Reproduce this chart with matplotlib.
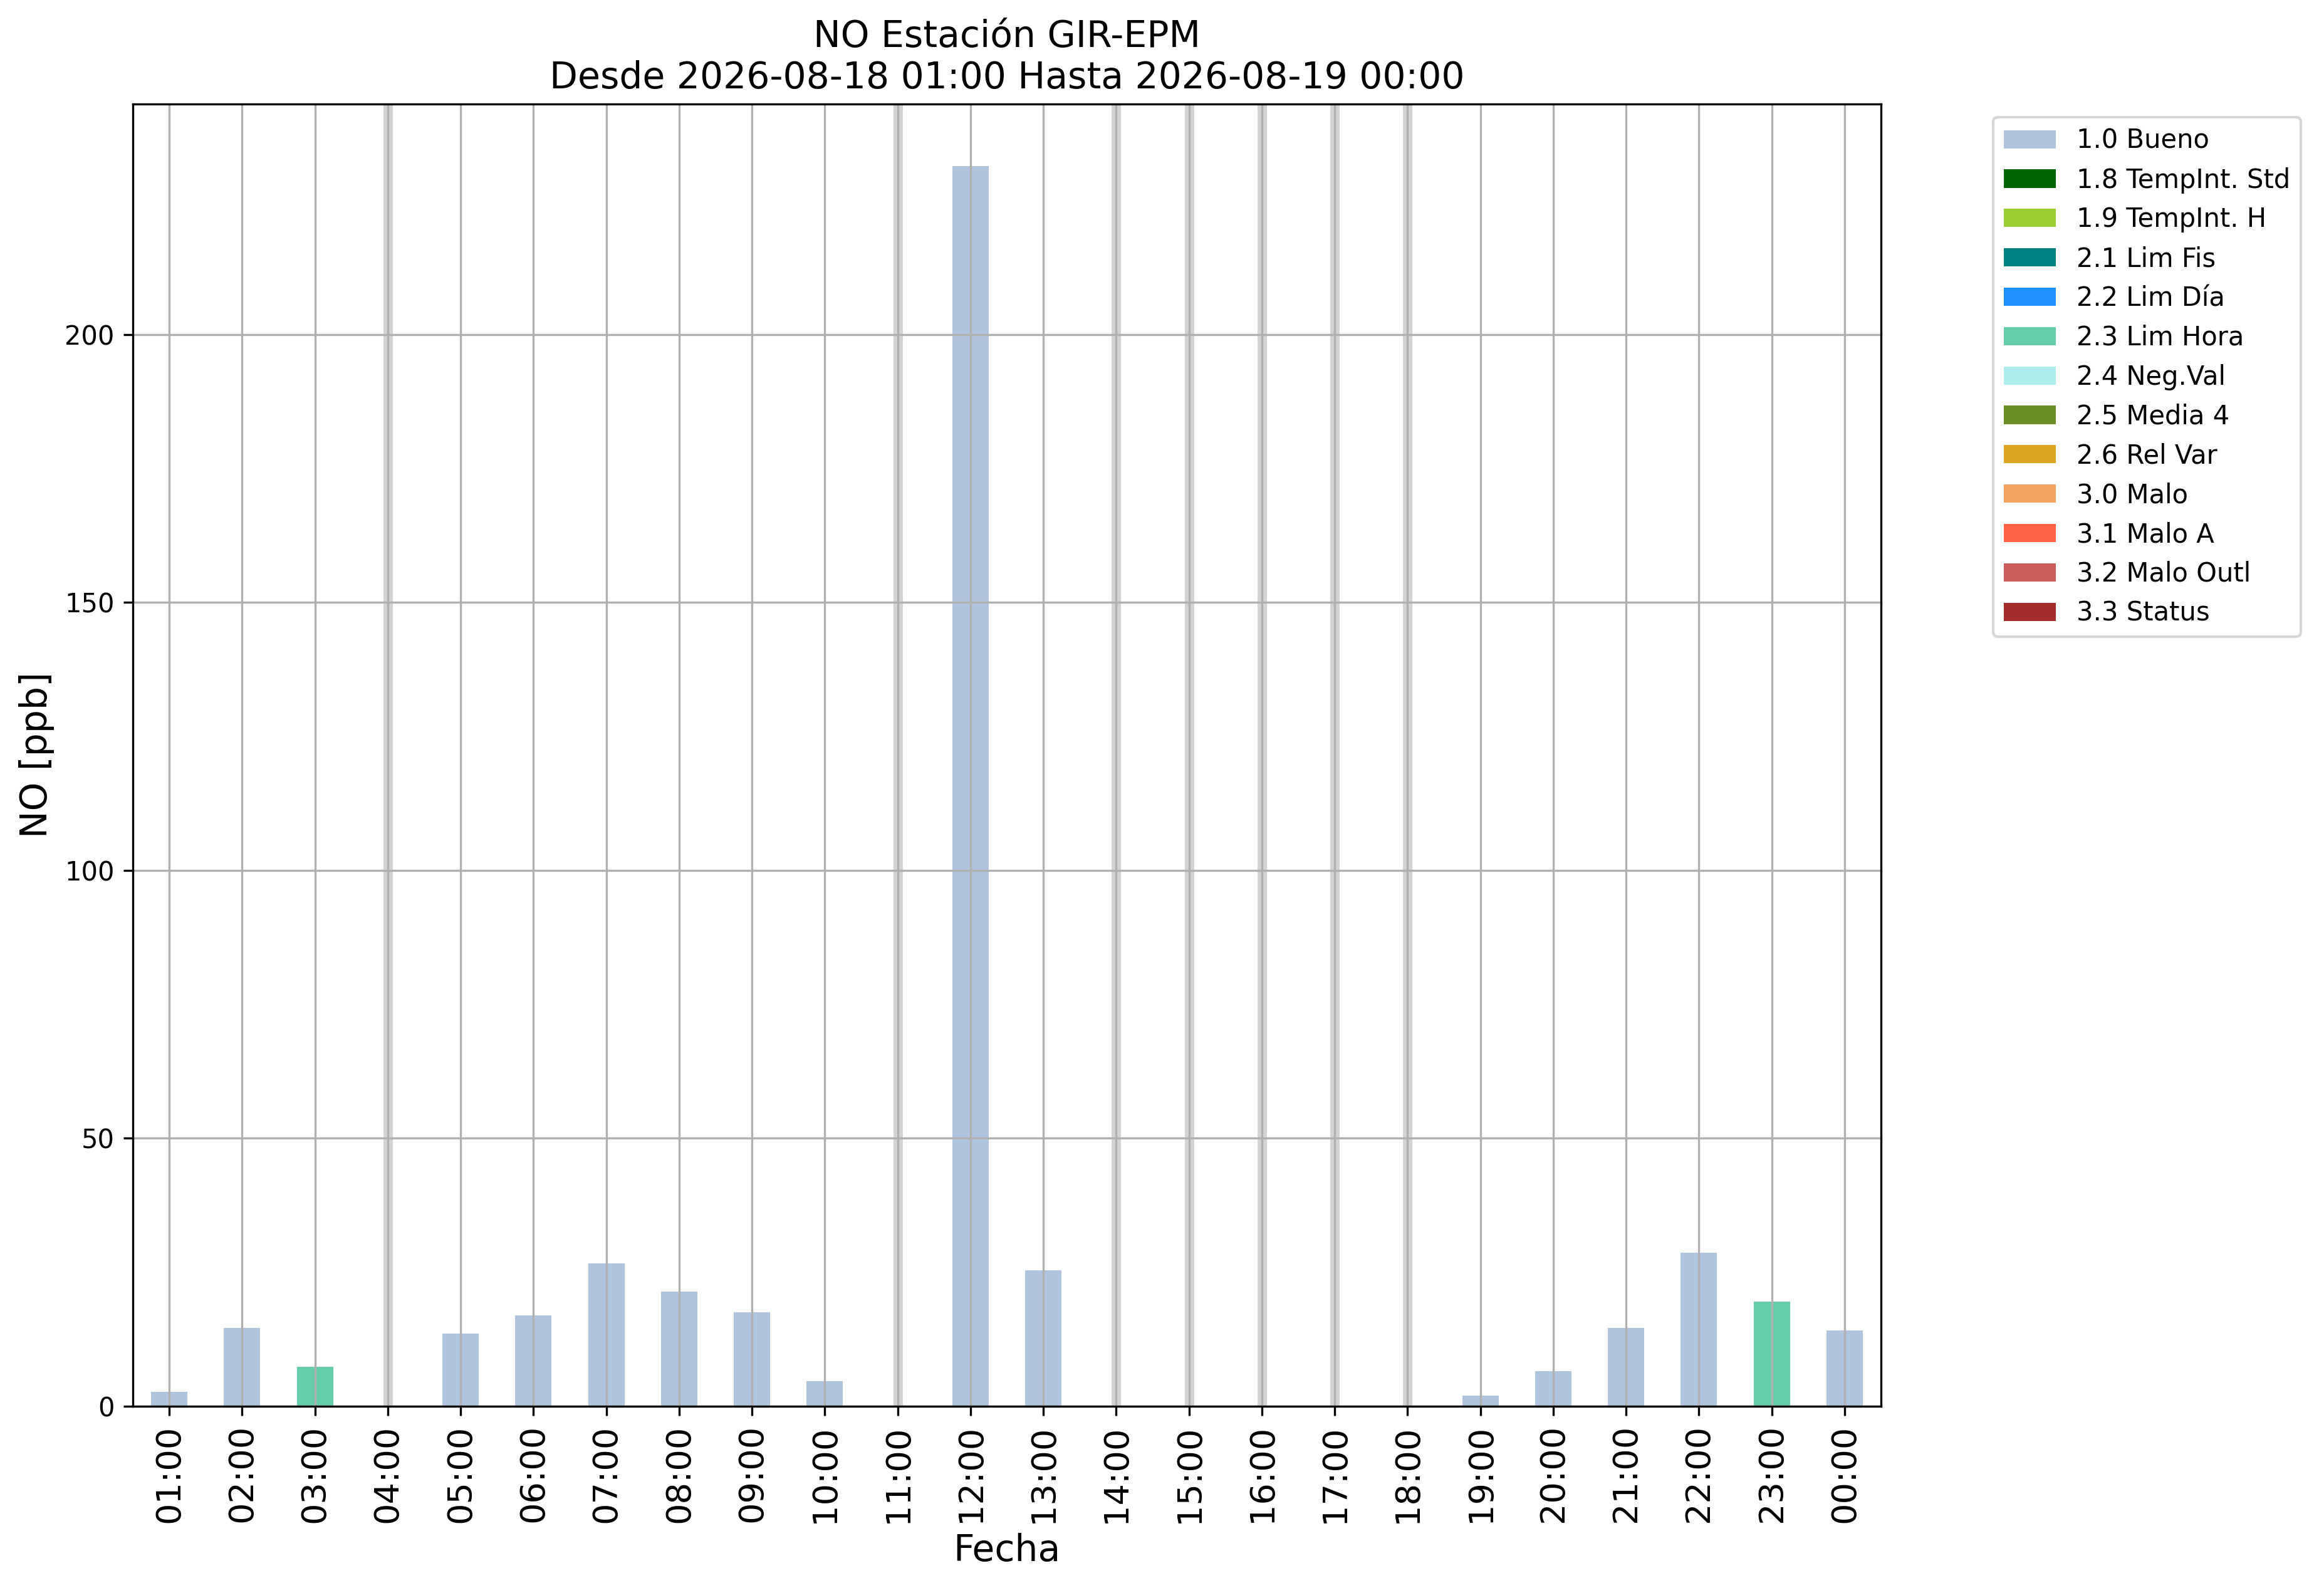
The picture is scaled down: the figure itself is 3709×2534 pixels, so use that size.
import matplotlib
matplotlib.use("Agg")
import matplotlib.pyplot as plt
from matplotlib.patches import Patch
import numpy as np

hours = ["01:00", "02:00", "03:00", "04:00", "05:00", "06:00", "07:00", "08:00",
         "09:00", "10:00", "11:00", "12:00", "13:00", "14:00", "15:00", "16:00",
         "17:00", "18:00", "19:00", "20:00", "21:00", "22:00", "23:00", "00:00"]
# NaN = missing hour
values = [2.7, 14.6, 7.4, np.nan, 13.6, 17.0, 26.7, 21.4, 17.5, 4.7, np.nan, 231.4,
          25.4, np.nan, np.nan, np.nan, np.nan, np.nan, 2.0, 6.6, 14.6, 28.6, 19.5, 14.2]
flags = ["1.0 Bueno", "1.0 Bueno", "2.3 Lim Hora", None, "1.0 Bueno", "1.0 Bueno",
         "1.0 Bueno", "1.0 Bueno", "1.0 Bueno", "1.0 Bueno", None, "1.0 Bueno",
         "1.0 Bueno", None, None, None, None, None, "1.0 Bueno", "1.0 Bueno",
         "1.0 Bueno", "1.0 Bueno", "2.3 Lim Hora", "1.0 Bueno"]

categories = ["1.0 Bueno", "1.8 TempInt. Std", "1.9 TempInt. H", "2.1 Lim Fis",
              "2.2 Lim Día", "2.3 Lim Hora", "2.4 Neg.Val", "2.5 Media 4",
              "2.6 Rel Var", "3.0 Malo", "3.1 Malo A", "3.2 Malo Outl", "3.3 Status"]
cat_colors = ["lightsteelblue", "darkgreen", "yellowgreen", "teal", "dodgerblue",
              "mediumaquamarine", "paleturquoise", "olivedrab", "goldenrod",
              "sandybrown", "tomato", "indianred", "brown"]
color_map = dict(zip(categories, cat_colors))

W, H, DPI = 3709, 2534, 300
fig = plt.figure(figsize=(W / DPI, H / DPI), dpi=DPI)
ax = fig.add_axes([212 / W, 1 - 2244 / H, (3002 - 212) / W, (2244 - 166) / H])

x = np.arange(len(hours))
vals = np.array(values, dtype=float)
present = ~np.isnan(vals)
ax.bar(x[present], vals[present], width=0.5,
       color=[color_map[f] for f, p in zip(flags, present) if p], zorder=1)
for xi, p in zip(x, present):
    if not p:
        ax.axvline(xi, color="lightgray", lw=3.6, zorder=1)

ax.set_xlim(-0.5, len(hours) - 0.5)
ax.set_ylim(0, np.nanmax(vals) * 1.05)
ax.set_xticks(x)
ax.set_xticklabels(hours, rotation=90, fontsize=13)
ax.tick_params(axis="y", labelsize=10)
ax.grid(True)
ax.set_xlabel("Fecha", fontsize=14)
ax.set_ylabel("NO [ppb]", fontsize=14)
ax.set_title("NO Estación GIR-EPM\nDesde 2026-08-18 01:00 Hasta 2026-08-19 00:00", fontsize=14)

handles = [Patch(facecolor=c, label=l) for l, c in zip(categories, cat_colors)]
fig.legend(handles=handles, loc="upper left", bbox_to_anchor=(3181 / W, 1 - 187 / H),
           bbox_transform=fig.transFigure, borderaxespad=0, fontsize=10)

fig.savefig("out.png", dpi=DPI)
